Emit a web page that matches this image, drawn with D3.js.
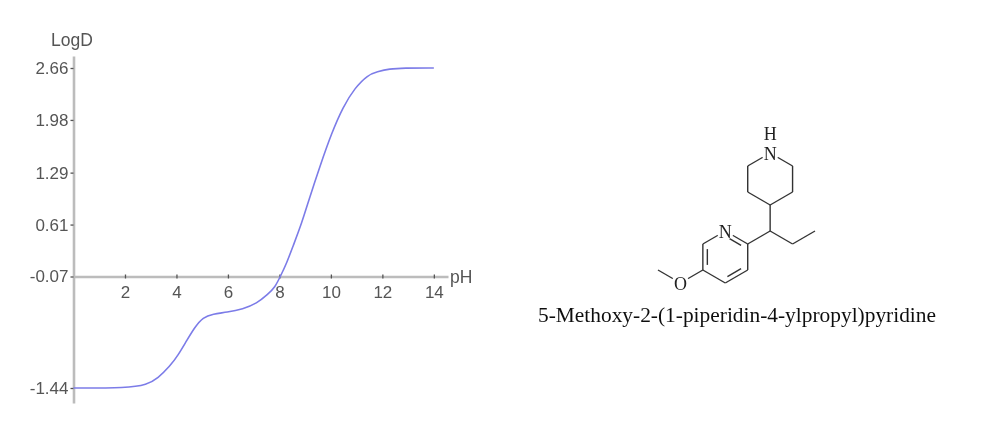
<!DOCTYPE html>
<html>
<head>
<meta charset="utf-8">
<script src="https://d3js.org/d3.v7.min.js"></script>
<style>
  html, body { margin: 0; padding: 0; background: #fff; }
  svg { display: block; }
</style>
</head>
<body>
<div id="chart"></div>
<script>
// logD curve
var ph = [0, 2.08, 2.85, 3.28, 3.75, 4.06, 4.41, 4.72, 5.03, 5.42, 5.96, 6.58, 7.12, 7.55, 7.83, 8.02, 8.29, 8.52, 8.87, 9.17, 9.56, 10.03, 10.47, 10.93, 11.44, 11.79, 12.29, 12.8, 14]
var logd = [-1.44, -1.44, -1.40, -1.32, -1.17, -1.04, -0.85, -0.69, -0.57, -0.53, -0.51, -0.47, -0.40, -0.29, -0.20, -0.08, 0.11, 0.32, 0.63, 0.96, 1.36, 1.81, 2.15, 2.40, 2.57, 2.61, 2.65, 2.66, 2.66]
var ph_ticks = [2, 4, 6, 8, 10, 12, 14]
var logd_ticks = [2.66, 1.98, 1.29, 0.61, -0.07, -1.44]

// structure in grid units: [col, row]
var atoms = {
  me: [0, 9], o: [1, 10], c5: [2, 9], c6: [2, 7], n1: [3, 6], c2: [4, 7], c3: [4, 9], c4: [3, 10],
  ch: [5, 6], ch2: [6, 7], ch3: [7, 6],
  p4: [5, 4], p3: [4, 3], p2: [4, 1], nh: [5, 0], p6: [6, 1], p5: [6, 3]
}
var bonds = [['me', 'o'], ['o', 'c5'], ['c5', 'c6'], ['c6', 'n1'], ['n1', 'c2'], ['c2', 'c3'], ['c3', 'c4'], ['c4', 'c5'],
  ['c2', 'ch'], ['ch', 'ch2'], ['ch2', 'ch3'], ['ch', 'p4'], ['p4', 'p3'], ['p3', 'p2'], ['p2', 'nh'], ['nh', 'p6'], ['p6', 'p5'], ['p5', 'p4']]
var double_bonds = [['c5', 'c6'], ['n1', 'c2'], ['c3', 'c4']]
var ring_center = [3, 8]
var labels = [['N', 'n1'], ['N', 'nh'], ['O', 'o']]
var name = '5-Methoxy-2-(1-piperidin-4-ylpropyl)pyridine'

var w = 982
var h = 444
var svg = d3.select('div#chart').append('svg').attr('width', w).attr('height', h)
svg.append('rect').attr('width', w).attr('height', h).attr('fill', '#fff')

// the reference is a slightly soft upscaled image
svg.append('defs').append('filter').attr('id', 'soft')
  .attr('filterUnits', 'userSpaceOnUse')
  .attr('x', 0).attr('y', 0).attr('width', w).attr('height', h)
  .append('feGaussianBlur').attr('stdDeviation', 0.7)
var root = svg.append('g').attr('filter', 'url(#soft)')

// the y ticks are not evenly spaced in value, hence the piecewise scale
var x = d3.scaleLinear().domain([0, 14.55]).range([73.5, 448])
var y = d3.scaleLinear().domain([-1.63, -1.44, -0.07, 2.66, 2.82]).range([403, 388, 276.5, 68, 56])

var axis_font = '"Liberation Sans", Arial, sans-serif'
var serif_font = '"Liberation Serif", "Times New Roman", serif'

function style_axis (g) {
  g.selectAll('.domain').attr('stroke', '#bcbcbc').attr('stroke-width', 2.6)
  g.selectAll('.tick line').attr('stroke', '#555').attr('stroke-width', 1.3)
  g.selectAll('text').attr('fill', '#555').attr('font-family', axis_font).attr('font-size', 17)
}

var gx = root.append('g').attr('transform', 'translate(0,' + y(-0.07) + ')')
  .call(d3.axisBottom(x).tickValues(ph_ticks).tickSize(2).tickSizeOuter(0).tickPadding(7))
gx.call(style_axis)
gx.selectAll('.tick line').attr('y1', -2).attr('y2', 2)

var gy = root.append('g').attr('transform', 'translate(' + x(0) + ',0)')
  .call(d3.axisLeft(y).tickValues(logd_ticks)
    .tickFormat(function (d) { return d.toFixed(2) })
    .tickSize(3).tickSizeOuter(0).tickPadding(2))
gy.call(style_axis)

root.append('text').attr('x', 51).attr('y', 46).attr('fill', '#555')
  .attr('font-family', axis_font).attr('font-size', 17.5).text('LogD')
root.append('text').attr('x', 450).attr('y', 283).attr('fill', '#555')
  .attr('font-family', axis_font).attr('font-size', 17.5).text('pH')

var line = d3.line()
  .x(function (d, i) { return x(ph[i]) })
  .y(function (d) { return y(d) })
  .curve(d3.curveBasis)

root.append('path').datum(logd)
  .attr('d', line)
  .attr('fill', 'none')
  .attr('stroke', '#7c7ce8')
  .attr('stroke-width', 1.6)

// structure
var mx = d3.scaleLinear().domain([0, 7]).range([658, 815])
var my = d3.scaleLinear().domain([0, 10]).range([153, 283])
var mol = root.append('g')

bonds.forEach(function (b) {
  mol.append('line')
    .attr('x1', mx(atoms[b[0]][0])).attr('y1', my(atoms[b[0]][1]))
    .attr('x2', mx(atoms[b[1]][0])).attr('y2', my(atoms[b[1]][1]))
    .attr('stroke', '#333').attr('stroke-width', 1.4)
})

double_bonds.forEach(function (b) {
  var a1 = atoms[b[0]]
  var a2 = atoms[b[1]]
  // second stroke pulled towards the ring centre and shortened
  var x1 = d3.interpolate(a1[0], a2[0])
  var y1 = d3.interpolate(a1[1], a2[1])
  var p = function (t) {
    var px = mx(x1(t))
    var py = my(y1(t))
    return [px + (mx(ring_center[0]) - px) * 0.2, py + (my(ring_center[1]) - py) * 0.2]
  }
  var s = p(0.12)
  var e = p(0.88)
  mol.append('line')
    .attr('x1', s[0]).attr('y1', s[1]).attr('x2', e[0]).attr('y2', e[1])
    .attr('stroke', '#333').attr('stroke-width', 1.4)
})

labels.forEach(function (l) {
  var a = atoms[l[1]]
  mol.append('circle').attr('cx', mx(a[0])).attr('cy', my(a[1])).attr('r', 9).attr('fill', '#fff')
  mol.append('text').attr('x', mx(a[0])).attr('y', my(a[1]) + 7)
    .attr('text-anchor', 'middle').attr('fill', '#222')
    .attr('font-family', serif_font).attr('font-size', 18).text(l[0])
})
mol.append('text').attr('x', mx(5)).attr('y', my(0) - 13)
  .attr('text-anchor', 'middle').attr('fill', '#222')
  .attr('font-family', serif_font).attr('font-size', 18).text('H')

root.append('text').attr('x', 737).attr('y', 322)
  .attr('text-anchor', 'middle').attr('fill', '#111')
  .attr('font-family', serif_font).attr('font-size', 21.4).text(name)
</script>
</body>
</html>
